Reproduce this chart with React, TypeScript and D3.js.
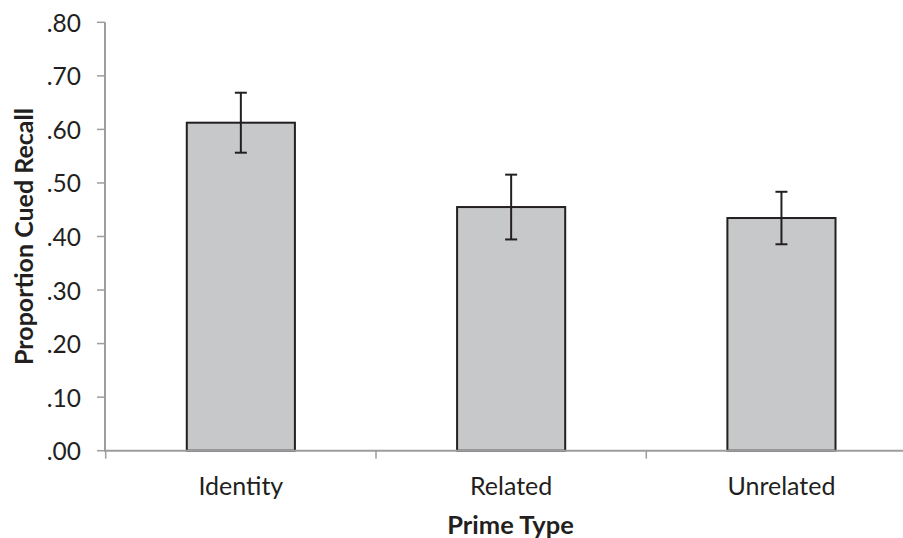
import React from "react";
import * as d3 from "d3";

const categories = ["Identity", "Related", "Unrelated"];
const means = [0.6125, 0.455, 0.4345];
const errors = [0.056, 0.0605, 0.049];
const yTicks = [0, 0.1, 0.2, 0.3, 0.4, 0.5, 0.6, 0.7, 0.8];
const xTitle = "Prime Type";
const yTitle = "Proportion Cued Recall";

const W = 903;
const H = 538;
const FONT = "Lato, 'Open Sans', sans-serif";
const TEXT = "#231f20";
const AXIS = "#9d9d9f";

export default function App() {
  const x = d3
    .scaleBand<string>()
    .domain(categories)
    .range([105.7, 916.6])
    .paddingInner(0.6)
    .paddingOuter(0.3);
  const y = d3.scaleLinear().domain([0, 0.8]).range([450.7, 22.3]);
  const fmt = (v: number) => d3.format(".2f")(v).replace(/^0/, "");
  const step = x.step();
  const x0 = 105.7;
  const boundaries = d3.range(categories.length + 1).map((i) => x0 + i * step);
  const bw = x.bandwidth();

  return (
    <svg
      width={W}
      height={H}
      style={{ position: "absolute", left: 0, top: 0, background: "#fff" }}
      fontFamily={FONT}
    >
      {/* y axis */}
      <line x1={105} x2={105} y1={y(0.8)} y2={y(0) + 1} stroke={AXIS} strokeWidth={2} />
      {yTicks.map((t) => (
        <g key={t}>
          <line x1={97} x2={105} y1={y(t)} y2={y(t)} stroke={AXIS} strokeWidth={1.5} />
          <text
            x={81}
            y={y(t)}
            textAnchor="end"
            dominantBaseline="central"
            fontSize={24.5}
            fill={TEXT}
          >
            {fmt(t)}
          </text>
        </g>
      ))}
      {/* bars */}
      {categories.map((c, i) => (
        <rect
          key={c}
          x={x(c)!}
          y={y(means[i])}
          width={bw}
          height={y(0) - y(means[i])}
          fill="#c7c8ca"
          stroke={TEXT}
          strokeWidth={2}
        />
      ))}
      {/* x axis */}
      <line x1={x0 - 1} x2={x0 + step * 3} y1={y(0)} y2={y(0)} stroke={AXIS} strokeWidth={2} />
      {boundaries.map((b, i) => (
        <line key={i} x1={b} x2={b} y1={y(0)} y2={y(0) + 8} stroke={AXIS} strokeWidth={1.5} />
      ))}
      {/* error bars */}
      {categories.map((c, i) => {
        const cx = x(c)! + bw / 2;
        const hi = y(means[i] + errors[i]);
        const lo = y(means[i] - errors[i]);
        return (
          <g key={c} stroke={TEXT} strokeWidth={2}>
            <line x1={cx} x2={cx} y1={hi} y2={lo} />
            <line x1={cx - 6} x2={cx + 6} y1={hi} y2={hi} />
            <line x1={cx - 6} x2={cx + 6} y1={lo} y2={lo} />
          </g>
        );
      })}
      {/* x labels */}
      {categories.map((c) => (
        <text
          key={c}
          x={x(c)! + bw / 2}
          y={494.5}
          textAnchor="middle"
          fontSize={25}
          fill={TEXT}
        >
          {c}
        </text>
      ))}
      <text x={510.6} y={534} textAnchor="middle" fontSize={25.5} fontWeight="bold" fill={TEXT}>
        {xTitle}
      </text>
      <text
        transform={`translate(32.5, ${(y(0) + y(0.8)) / 2}) rotate(-90)`}
        textAnchor="middle"
        fontSize={25}
        fontWeight="bold"
        fill={TEXT}
      >
        {yTitle}
      </text>
    </svg>
  );
}
